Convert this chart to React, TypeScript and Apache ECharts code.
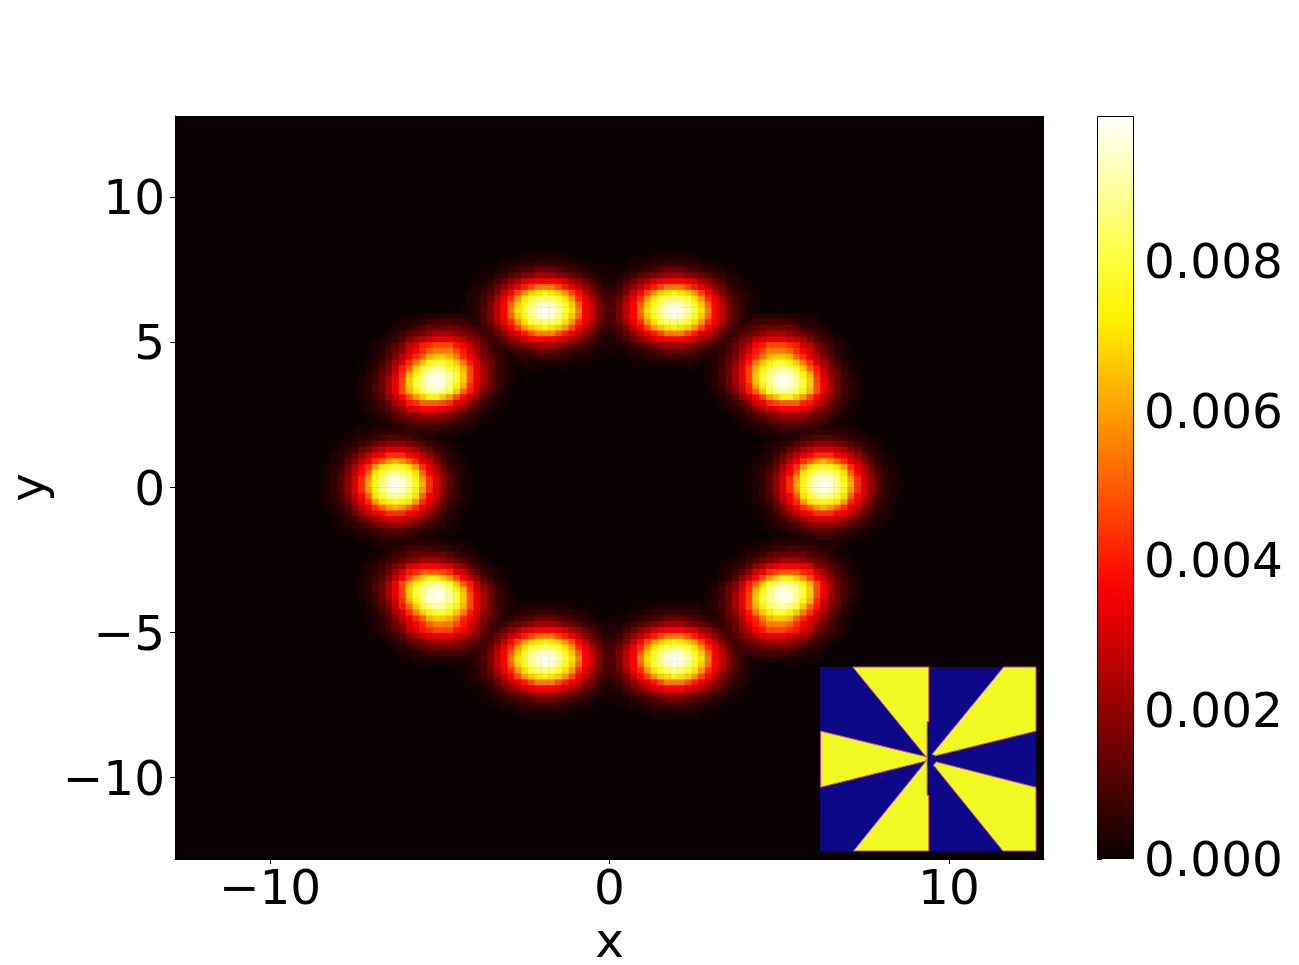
import React, { useEffect, useRef } from "react";
import * as echarts from "echarts";

const CELLS = 128;
const EXTENT = 12.8;
const VMAX = 0.00994;
const FONT = "DejaVu Sans";

const xTicks = [-10, 0, 10];
const yTicks = [-10, -5, 0, 5, 10];
const barTicks = [0, 0.002, 0.004, 0.006, 0.008];

const hotColors = ["#0b0000", "#470000", "#840000", "#c10000", "#fe0000", "#ff3c00", "#ff7900", "#ffb500", "#fff200", "#ffff48", "#ffffa4", "#ffffff"];

// Colour-bar value of each base-36 level used in the patches below.
const levelValues = [
  0, 0.0001, 0.00028, 0.00043, 0.00057, 0.00077, 0.00094, 0.00114, 0.00142, 0.0017, 0.00199, 0.00231,
  0.00265, 0.00298, 0.00329, 0.00362, 0.00394, 0.00426, 0.00466, 0.00505, 0.00545, 0.00585, 0.00625, 0.00662,
  0.007, 0.00737, 0.00773, 0.00795, 0.00816, 0.00838, 0.00859, 0.0088, 0.00908, 0.00937, 0.00958, 0.00994,
];

// Intensity patches, one base-36 level per grid cell.
const roundBlob = [
  "00000000111" + "1" + "11100000000",
  "00000011222" + "2" + "22211000000",
  "00001122344" + "4" + "44322110000",
  "00011234567" + "7" + "76543211000",
  "0012345789a" + "a" + "a9875432100",
  "00124589bcd" + "d" + "dcb98542100",
  "012358acefh" + "h" + "hfeca853210",
  "012479cehjl" + "m" + "ljhec974210",
  "12358behlop" + "q" + "polheb85321",
  "12469cfjoru" + "v" + "urojfc96421",
  "1247adhlpux" + "y" + "xuplhda7421",
  "1247adhmqvy" + "z" + "yvqmhda7421",
  "1247adhlpux" + "y" + "xuplhda7421",
  "12469cfjoru" + "v" + "urojfc96421",
  "12358behlop" + "q" + "polheb85321",
  "012479cehjl" + "m" + "ljhec974210",
  "012358acefh" + "h" + "hfeca853210",
  "00124589bcd" + "d" + "dcb98542100",
  "0012345789a" + "a" + "a9875432100",
  "00011234567" + "7" + "76543211000",
  "00001122344" + "4" + "44322110000",
  "00000011222" + "2" + "22211000000",
  "00000000111" + "1" + "11100000000",
];

const wideBlob = [
  "000000000111" + "1" + "111000000000",
  "000000111222" + "2" + "222111000000",
  "000011223445" + "5" + "544322110000",
  "000112345678" + "8" + "876543211000",
  "001224578" + "9ab" + "b" + "ba9875422100",
  "0112468abdef" + "f" + "fedba8642110",
  "012358acegik" + "k" + "kigeca853210",
  "123579cfilno" + "p" + "onlifc975321",
  "12368behlort" + "u" + "trolheb86321",
  "12469cfjnqux" + "y" + "xuqnjfc96421",
  "12479cfkorwy" + "z" + "ywrokfc97421",
  "12469cfjnqux" + "y" + "xuqnjfc96421",
  "12368behlort" + "u" + "trolheb86321",
  "123579cfilno" + "p" + "onlifc975321",
  "012358acegik" + "k" + "kigeca853210",
  "0112468abdef" + "f" + "fedba8642110",
  "001224578" + "9ab" + "b" + "ba9875422100",
  "000112345678" + "8" + "876543211000",
  "000011223445" + "5" + "544322110000",
  "000000111222" + "2" + "222111000000",
  "000000000111" + "1" + "111000000000",
];

// Peak on row index 11: reaches further above the peak than below it.
const tiltBlob = [
  "00000011223333332211000",
  "00000122345566554321100",
  "00001234578888876532110",
  "0001235789abbba98753210",
  "00123579bcdeeedca975321",
  "0123579cdghiiigfca86421",
  "012368adfhjkkkigdb86421",
  "012479cehjmnnmkhfc97531",
  "12358bdhknprrpnkgda8532",
  "12479cgjnruwvspmieb8632",
  "1358adhmpuxyxvrnieb8632",
  "2358beinrvyzyvrnieb8532",
  "2368beinrvxyxupmhda8531",
  "2368beimpsvwurnjgc97421",
  "2357acfilnppnlifca74210",
  "12468bdghjjjiheda753210",
  "123579adefffedba7532100",
  "01235789abbba9875321000",
  "01123567888887543210000",
  "00112345566554322100000",
  "00011223333332211000000",
];

// patch, centre column, centre row (0 = bottom), mirrored in x, mirrored in y
const placements: [string[], number, number, boolean, boolean][] = [
  [roundBlob, 32, 64, false, false],
  [roundBlob, 95, 64, true, false],
  [tiltBlob, 38, 83, false, false],
  [tiltBlob, 89, 83, true, false],
  [tiltBlob, 38, 44, false, true],
  [tiltBlob, 89, 44, true, true],
  [wideBlob, 54, 94, false, false],
  [wideBlob, 73, 94, true, false],
  [wideBlob, 54, 34, false, true],
  [wideBlob, 73, 34, true, true],
];

function buildCells() {
  const grid = new Map<string, number>();
  for (const [patch, col, row, fx, fy] of placements) {
    const cy = (patch.length - 1) / 2;
    patch.forEach((line, i) => {
      const cx = (line.length - 1) / 2;
      for (let j = 0; j < line.length; j++) {
        const level = parseInt(line[j], 36);
        if (!level) continue;
        const c = col + (fx ? cx - j : j - cx);
        const r = row + (fy ? i - cy : cy - i);
        const key = c + "," + r;
        grid.set(key, Math.max(grid.get(key) || 0, level));
      }
    });
  }
  const out: number[][] = [];
  grid.forEach((level, key) => {
    const [c, r] = key.split(",").map(Number);
    out.push([c, r, levelValues[level]]);
  });
  return out;
}

// Phase inset: yellow sectors in plot units.
const sectorTopLeft = [[-8.92, 12.8], [0.1, 12.8], [0.1, 5.18], [-0.1, 5.18], [-0.1, 0.07], [-0.46, 0.63]];
const sectorLeft = [[-12.72, 3.88], [-0.46, 0.39], [-0.1, 0.3], [-0.1, -0.21], [-0.46, -0.35], [-12.72, -3.93]];
const sectorBottomLeft = [[-8.84, -12.8], [0.1, -12.8], [0.1, -5.04], [-0.1, -5.04], [-0.1, -0.02], [-0.46, -0.63]];
const sectorTopRight = [[8.96, 12.8], [12.8, 12.8], [12.8, 3.88], [0.89, 0.44], [0.49, 0.67]];
const sectorBottomRight = [[12.8, -3.93], [12.8, -12.8], [8.88, -12.8], [0.65, -0.86], [0.97, -0.39]];
const sectors = [sectorTopLeft, sectorLeft, sectorBottomLeft, sectorTopRight, sectorBottomRight];

const labelStyle = { fontFamily: FONT, fontSize: 48.5, color: "#000" };
const minus = (v: number) => String(v).replace("-", "\u2212");

export default function App() {
  const ref = useRef<HTMLDivElement>(null);
  useEffect(() => {
    const chart = echarts.init(ref.current!, undefined, { renderer: "svg" });
    const cats = Array.from({ length: CELLS }, (_, i) => String(i));
    chart.setOption({
      animation: false,
      backgroundColor: "#fff",
      grid: [
        { left: 175, top: 116, width: 869, height: 743, show: true, backgroundColor: "#0b0000", borderWidth: 0, outerBoundsMode: "none" },
        { left: 820, top: 667, width: 216, height: 184, show: true, backgroundColor: "#0d0887", borderWidth: 0, outerBoundsMode: "none" },
        { left: 1097, top: 116, width: 37, height: 743, show: false, outerBoundsMode: "none" },
      ],
      xAxis: [
        { type: "category", gridIndex: 0, data: cats, show: false },
        {
          type: "value", gridIndex: 0, min: -EXTENT, max: EXTENT, position: "bottom",
          axisLine: { show: true, onZero: false, lineStyle: { color: "#000" } },
          axisTick: { show: true, length: 5, customValues: xTicks, lineStyle: { color: "#000" } },
          axisLabel: { ...labelStyle, margin: 3, customValues: xTicks, formatter: minus },
          splitLine: { show: false },
          name: "x", nameLocation: "middle", nameGap: 60,
          nameTextStyle: { ...labelStyle, lineHeight: 40 },
        },
        { type: "value", gridIndex: 1, min: -EXTENT, max: EXTENT, show: false },
        { type: "value", gridIndex: 2, min: 0, max: 1, show: false },
      ],
      yAxis: [
        { type: "category", gridIndex: 0, data: cats, show: false },
        {
          type: "value", gridIndex: 0, min: -EXTENT, max: EXTENT, position: "left",
          axisLine: { show: true, onZero: false, lineStyle: { color: "#000" } },
          axisTick: { show: true, length: 5, customValues: yTicks, lineStyle: { color: "#000" } },
          axisLabel: { ...labelStyle, margin: 10, padding: [2, 0, 0, 0], customValues: yTicks, formatter: minus },
          splitLine: { show: false },
          name: "y", nameLocation: "middle", nameGap: 116, nameRotate: 90,
          nameTextStyle: { ...labelStyle, lineHeight: 40 },
        },
        { type: "value", gridIndex: 1, min: -EXTENT, max: EXTENT, show: false },
        {
          type: "value", gridIndex: 2, min: 0, max: VMAX, position: "right",
          axisLine: { show: false },
          axisTick: { show: true, length: 5, customValues: barTicks, lineStyle: { color: "#000" } },
          axisLabel: { ...labelStyle, margin: 10, padding: [2, 0, 0, 0], customValues: barTicks, formatter: (v: number) => v.toFixed(3) },
          splitLine: { show: false },
        },
      ],
      visualMap: {
        type: "continuous", seriesIndex: 0, dimension: 2, min: 0, max: VMAX,
        left: 1097, top: 116, itemWidth: 37, itemHeight: 743, padding: 0,
        calculable: false, hoverLink: false, realtime: false, orient: "vertical",
        handleSize: 0, indicatorSize: 0,
        inRange: { color: hotColors },
      },
      graphic: [
        { type: "rect", z: 100, shape: { x: 1097.5, y: 116.5, width: 36, height: 742 }, style: { fill: "none", stroke: "#000", lineWidth: 1 } },
      ],
      series: [
        { type: "heatmap", xAxisIndex: 0, yAxisIndex: 0, data: buildCells(), itemStyle: { borderWidth: 0 }, emphasis: { disabled: true } },
        {
          type: "custom", xAxisIndex: 2, yAxisIndex: 2, coordinateSystem: "cartesian2d",
          data: sectors.map((_, i) => [i]),
          renderItem: (params: any, api: any) => {
            const pts = sectors[api.value(0)].map((p) => api.coord(p));
            return { type: "polygon", shape: { points: pts }, style: { fill: "#f0f921", stroke: "#cc4778", lineWidth: 1 } };
          },
        },
      ],
    });
    return () => chart.dispose();
  }, []);
  return <div ref={ref} style={{ position: "fixed", left: 0, top: 0, width: 1299, height: 965 }} />;
}
